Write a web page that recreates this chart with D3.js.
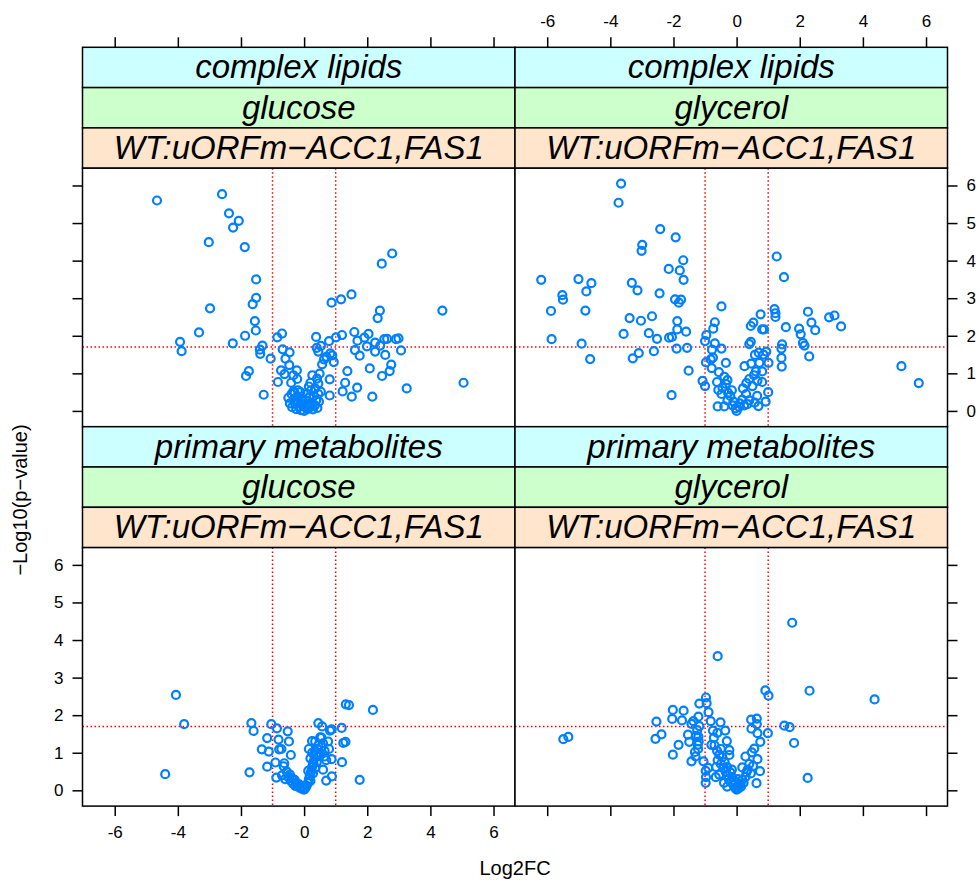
<!DOCTYPE html>
<html>
<head>
<meta charset="utf-8">
<script src="https://cdn.jsdelivr.net/npm/d3@7"></script>
<style>
  body { margin: 0; background: #fff; }
  svg text { font-family: "Liberation Sans", Arial, sans-serif; }
  .axis path { display: none; }
  .axis line { stroke: #000; stroke-width: 1.5; }
  .axis text { font-size: 17px; fill: #000; }
</style>
</head>
<body>
<div id="chart"></div>
<script>
// strip labels (outer to inner)
var classes = ["complex lipids", "primary metabolites"];
var sources = ["glucose", "glycerol"];
var comparison = "WT:uORFm\u2212ACC1,FAS1";
var xTicks = [-6, -4, -2, 0, 2, 4, 6];
var yTicks = [0, 1, 2, 3, 4, 5, 6];
var fcCut = [-1, 1];
var pCut = 1.7;

// [Log2FC, -Log10(p)]
var lipidsGlucose = [
  [-4.66,5.60],[-2.60,5.77],[-2.38,5.26],[-2.07,5.06],[-2.25,4.88],[-3.02,4.49],[-1.88,4.36],[-1.52,3.50],
  [-1.52,3.01],[-1.63,2.84],[-2.98,2.73],[-1.56,2.39],[-1.53,2.14],[-3.33,2.09],[-3.93,1.84],[-3.88,1.59],
  [-2.26,1.80],[-1.87,2.00],[-1.32,1.74],[-1.40,1.63],[-1.39,1.52],[-1.06,1.39],[-1.75,1.06],[-1.84,0.93],
  [-1.28,0.43],[-0.85,1.96],[-0.70,2.06],[-0.68,1.64],[-0.46,1.56],[-0.59,1.39],[-0.47,1.22],[-0.73,1.08],
  [-0.62,0.98],[-0.83,0.77],[-0.23,1.08],[-0.34,0.95],[-0.22,0.85],[-0.41,0.75],[-0.20,0.55],[-0.34,0.52],
  [0.38,1.97],[0.40,1.68],[0.45,1.58],[0.53,1.73],[0.79,1.86],[1.01,1.96],[1.20,2.02],[0.87,2.88],
  [1.17,2.97],[1.50,3.10],[2.46,3.92],[2.79,4.19],[2.40,2.67],[2.33,2.47],[4.38,2.67],[5.05,0.75],
  [3.25,0.60],[2.16,0.38],[1.51,0.38],[1.68,0.62],[1.22,0.52],[1.30,0.75],[1.37,1.06],[2.08,1.13],
  [2.47,0.93],[2.71,1.06],[2.76,1.23],[2.57,1.49],[3.07,1.61],[2.99,1.93],[2.91,1.91],[2.63,1.92],
  [2.54,1.91],[2.25,1.82],[2.04,2.05],[1.91,1.95],[1.59,2.10],[1.69,1.87],[1.61,1.62],[1.76,1.47],
  [1.99,1.72],[2.25,1.58],[2.41,1.74],[0.94,1.30],[0.83,1.53],[0.71,1.44],[0.89,1.48],[0.63,1.37],
  [0.57,1.24],[0.81,0.84],[0.81,0.41],[0.49,0.99],[0.41,0.86],[0.26,0.95],[0.20,0.75],[0.45,0.73],
  [0.53,0.51],[0.47,0.25],
  [-0.50,0.35],[-0.45,0.20],[-0.40,0.45],[-0.38,0.10],[-0.32,0.30],[-0.28,0.18],[-0.25,0.05],[-0.22,0.38],
  [-0.18,0.25],[-0.14,0.12],[-0.10,0.02],[-0.08,0.32],[-0.04,0.18],[0.00,0.00],[0.03,0.10],[0.06,0.28],
  [0.10,0.05],[0.13,0.18],[0.16,0.36],[0.20,0.10],[0.24,0.22],[0.28,0.04],[0.30,0.40],[0.34,0.15],
  [0.38,0.28],[0.42,0.08],[0.45,0.45],[-0.30,0.48],[0.08,0.45],[-0.12,0.50],[0.22,0.55],[0.35,0.60],
  [0.15,0.65]
];

var lipidsGlycerol = [
  [-3.66,6.05],[-3.74,5.54],[-2.42,4.84],[-1.93,4.62],[-2.99,4.42],[-3.01,4.26],[-1.69,4.01],[-2.15,3.78],
  [-1.80,3.74],[-1.68,3.49],[-6.19,3.49],[-5.01,3.51],[-4.60,3.40],[-4.76,3.18],[-5.52,3.08],[-5.50,2.96],
  [-5.88,2.66],[-4.79,2.67],[-5.86,1.91],[-4.91,1.79],[-4.64,1.38],[-3.32,3.41],[-3.14,3.21],[-2.44,3.13],
  [-1.95,2.97],[-1.83,2.88],[-1.76,2.96],[-0.48,2.78],[-3.39,2.47],[-3.03,2.40],[-2.68,2.52],[-3.58,2.05],
  [-2.78,2.07],[-2.52,1.92],[-2.14,1.95],[-2.05,1.97],[-1.88,2.39],[-1.88,2.17],[-1.60,2.11],[-1.57,1.68],
  [-1.90,1.66],[-3.10,1.54],[-3.29,1.40],[-2.62,1.59],[-1.52,1.07],[-2.06,0.42],[-0.69,2.36],[-0.74,2.19],
  [-0.96,2.02],[-1.00,1.86],[-0.69,1.80],[-0.48,1.66],[-0.78,1.63],[-0.75,1.42],[-0.82,1.37],[-0.97,1.29],
  [-0.79,1.14],[-0.34,1.28],[-0.56,1.03],[-0.39,0.91],[-0.29,0.82],[-0.62,0.77],[-1.08,0.80],[-1.00,0.66],
  [-0.58,0.56],[-0.48,0.45],[-0.27,0.48],[-0.60,0.12],[-0.39,0.12],[-0.03,0.07],[0.18,0.30],[0.34,0.18],
  [0.57,0.22],[0.69,0.13],[0.92,0.25],[1.00,0.50],[0.81,0.77],[0.50,0.66],[0.31,0.74],[0.40,0.85],
  [0.61,1.05],[0.72,1.28],[0.46,1.26],[0.25,1.19],[0.58,1.49],[0.94,1.58],[1.01,1.28],[0.81,2.17],
  [0.87,2.17],[0.76,2.57],[0.53,2.35],[0.45,2.26],[0.45,1.84],[0.40,1.78],[1.20,2.71],[1.23,2.60],
  [1.23,2.50],[1.27,4.11],[1.50,3.56],[1.56,2.23],[1.44,1.77],[1.42,1.66],[1.42,1.41],[1.43,1.18],
  [2.26,2.64],[2.37,2.35],[2.49,2.15],[1.98,2.19],[2.03,2.04],[2.10,1.81],[2.15,1.74],[2.30,1.45],
  [2.93,2.49],[3.10,2.54],[3.31,2.25],[5.22,1.19],[5.77,0.74],
  [-0.34,0.72],[-0.45,0.62],[-0.29,0.28],[-0.13,0.15],[0.08,0.11],[0.24,0.15],[0.40,0.28],[0.66,0.80],
  [0.81,1.05],[-0.20,0.40],[-0.10,0.25],[0.00,0.00],[0.10,0.20],[0.30,0.45],[0.55,0.95],[0.65,0.40],
  [-0.15,0.55],[0.20,0.60],[0.70,1.55],[0.85,1.50]
];

var primaryGlucose = [
  [-4.06,2.54],[-3.80,1.76],[-4.40,0.43],[-1.67,1.79],[-1.60,1.58],[-1.17,1.39],[-1.34,1.09],[-1.12,1.03],
  [-1.17,0.63],[-1.73,0.48],[-1.04,1.76],[-0.86,1.65],[-0.52,1.57],[-0.81,1.35],[-0.48,1.30],[-0.79,1.09],
  [-0.72,1.10],[-0.42,0.94],[-0.91,0.74],[-0.63,0.72],[-0.65,0.64],[-0.88,0.34],[0.45,1.79],[0.57,1.70],
  [0.25,1.31],[0.51,1.41],[0.76,1.30],[0.82,1.59],[0.87,1.62],[1.19,1.66],[1.32,2.29],[1.42,2.27],
  [2.18,2.14],[1.24,1.26],[1.31,1.29],[1.20,0.75],[1.76,0.28],[0.88,0.37],[0.70,0.26],[0.87,0.83],
  [0.79,1.10],[0.34,1.05],[0.49,0.92],[0.28,0.74],[0.13,0.52],
  [-0.55,0.50],[-0.50,0.35],[-0.45,0.42],[-0.42,0.25],[-0.38,0.32],[-0.35,0.18],[-0.30,0.28],[-0.28,0.12],
  [-0.24,0.20],[-0.20,0.10],[-0.16,0.16],[-0.12,0.06],[-0.08,0.10],[-0.04,0.03],[0.00,0.02],[0.04,0.06],
  [0.08,0.12],[0.12,0.20],[0.15,0.30],[0.18,0.40],[0.22,0.50],[0.25,0.62],[0.30,0.70],[0.33,0.85],
  [0.38,0.95],[0.42,1.10],[0.45,1.20],[0.20,0.25],[0.28,0.45],[0.35,0.60],[0.40,0.75],[0.50,1.00],
  [0.55,1.15],[0.60,1.25],[-0.60,0.30],[-0.70,0.40],[0.65,0.90],[0.60,0.55],[0.15,1.10],[0.25,1.00],
  [0.35,1.30],[0.55,1.40],[0.65,1.05],[0.70,0.80],[0.20,0.85]
];

var primaryGlycerol = [
  [1.76,4.46],[-0.60,3.57],[2.31,2.65],[4.37,2.42],[0.91,2.66],[1.01,2.52],[-5.49,1.36],[-5.33,1.42],
  [-2.54,1.83],[-2.57,1.37],[-2.38,1.49],[-2.02,2.14],[-2.04,1.90],[-1.68,2.12],[-1.73,1.86],[-1.84,1.21],
  [-2.02,0.95],[-1.43,0.77],[-1.32,1.02],[-1.54,1.48],[-1.50,1.29],[-1.18,2.31],[-0.97,2.47],[-0.95,2.32],
  [-0.89,2.08],[-1.21,1.96],[-1.37,1.84],[-1.43,1.77],[-1.18,1.71],[-1.21,1.43],[-1.23,1.21],[-0.82,1.84],
  [-0.51,1.81],[-0.75,1.59],[-0.61,1.53],[-0.36,1.59],[-0.31,1.31],[-0.80,1.21],[-1.05,0.77],[-0.98,0.52],
  [-0.97,0.35],[-0.23,1.07],[-0.23,0.94],[0.46,1.88],[0.64,1.91],[0.64,1.76],[0.47,1.64],[0.66,1.52],
  [0.99,1.52],[0.75,1.29],[0.56,1.11],[0.48,1.01],[0.28,0.90],[0.66,0.83],[0.52,0.65],[0.74,0.51],
  [0.63,0.19],[0.18,0.61],[0.31,0.48],[1.51,1.72],[1.68,1.68],[1.82,1.26],[2.25,0.33],
  [-0.70,1.20],[-0.62,1.05],[-0.55,0.95],[-0.60,0.80],[-0.50,0.70],[-0.45,0.88],[-0.42,0.60],[-0.38,0.75],
  [-0.35,0.50],[-0.30,0.62],[-0.28,0.40],[-0.25,0.30],[-0.20,0.48],[-0.18,0.22],[-0.14,0.35],[-0.10,0.14],
  [-0.08,0.26],[-0.04,0.06],[0.00,0.02],[0.03,0.12],[0.06,0.05],[0.10,0.18],[0.14,0.10],[0.18,0.28],
  [0.22,0.20],[0.28,0.36],[0.35,0.55],[0.40,0.70],[0.45,0.45],[-0.65,0.62],[-0.55,0.42],[-0.50,1.10],
  [-0.72,1.40],[-0.66,0.35],[-0.40,0.20],[-0.30,0.10],[-0.15,0.55],[0.05,0.30],[-1.25,1.60],[-1.28,1.45],
  [-1.22,1.10],[-1.30,0.90],[-1.20,1.30],[-0.98,0.20],[-0.90,0.60]
];

var panels = [
  { row: 0, col: 0, cls: classes[0], src: sources[0], data: lipidsGlucose },
  { row: 0, col: 1, cls: classes[0], src: sources[1], data: lipidsGlycerol },
  { row: 1, col: 0, cls: classes[1], src: sources[0], data: primaryGlucose },
  { row: 1, col: 1, cls: classes[1], src: sources[1], data: primaryGlycerol }
];

var svgWidth = 980;
var svgHeight = 888;

// layout of the lattice
var colX = [82.5, 515, 947.5];
var top0 = 47.3;
var stripH = 40.3;
var panelH = 258.5;
var rowTop = [top0, top0 + 3 * stripH + panelH];
var stripColors = ["#ccffff", "#ccffcc", "#ffe5cc"];
var tickLen = 10;
var fmt = d => String(d);

var svg = d3.select("#chart")
  .append("svg")
  .attr("width", svgWidth)
  .attr("height", svgHeight);

function xScaleFor(col) {
  return d3.scaleLinear().domain([-7.02, 6.68]).range([colX[col], colX[col + 1]]);
}
function yScaleFor(row) {
  var pTop = rowTop[row] + 3 * stripH;
  return d3.scaleLinear().domain([-0.42, 6.46]).range([pTop + panelH, pTop]);
}

panels.forEach(function(p) {
  var x = xScaleFor(p.col);
  var y = yScaleFor(p.row);
  var x0 = colX[p.col], x1 = colX[p.col + 1];
  var sTop = rowTop[p.row];
  var pTop = sTop + 3 * stripH;
  var g = svg.append("g");

  // strips
  var labels = [p.cls, p.src, comparison];
  labels.forEach(function(lab, i) {
    g.append("rect")
      .attr("x", x0).attr("y", sTop + i * stripH)
      .attr("width", x1 - x0).attr("height", stripH)
      .attr("fill", stripColors[i])
      .attr("stroke", "#000").attr("stroke-width", 1.5);
    g.append("text")
      .attr("x", (x0 + x1) / 2)
      .attr("y", sTop + i * stripH + 31)
      .attr("text-anchor", "middle")
      .attr("font-size", "33px")
      .attr("font-style", "italic")
      .text(lab);
  });

  // panel background
  g.append("rect")
    .attr("x", x0).attr("y", pTop)
    .attr("width", x1 - x0).attr("height", panelH)
    .attr("fill", "#fff");

  var clip = "clip" + p.row + p.col;
  g.append("clipPath").attr("id", clip).append("rect")
    .attr("x", x0).attr("y", pTop).attr("width", x1 - x0).attr("height", panelH);
  var inner = g.append("g").attr("clip-path", "url(#" + clip + ")");

  // cutoff lines
  fcCut.forEach(function(v) {
    inner.append("line")
      .attr("x1", x(v)).attr("x2", x(v))
      .attr("y1", pTop).attr("y2", pTop + panelH)
      .attr("stroke", "#ff0000").attr("stroke-width", 1.5)
      .attr("stroke-dasharray", "1.5,2.5");
  });
  inner.append("line")
    .attr("x1", x0).attr("x2", x1)
    .attr("y1", y(pCut)).attr("y2", y(pCut))
    .attr("stroke", "#ff0000").attr("stroke-width", 1.5)
    .attr("stroke-dasharray", "1.5,2.5");

  // points
  inner.selectAll("circle")
    .data(p.data)
    .enter()
    .append("circle")
    .attr("cx", d => x(d[0]))
    .attr("cy", d => y(d[1]))
    .attr("r", 4)
    .attr("fill", "none")
    .attr("stroke", "#0080ff")
    .attr("stroke-width", 2.2);

  // panel border
  g.append("rect")
    .attr("x", x0).attr("y", pTop)
    .attr("width", x1 - x0).attr("height", panelH)
    .attr("fill", "none")
    .attr("stroke", "#000").attr("stroke-width", 1.5);

  // x axes: bottom row gets bottom ticks, top row gets top ticks
  if (p.row === 1) {
    var xb = d3.axisBottom(x).tickValues(xTicks).tickSize(tickLen).tickPadding(10)
      .tickSizeOuter(0).tickFormat(p.col === 0 ? fmt : "");
    g.append("g").attr("class", "axis")
      .attr("transform", `translate(0, ${pTop + panelH})`)
      .call(xb);
  } else {
    var xt = d3.axisTop(x).tickValues(xTicks).tickSize(tickLen).tickPadding(10)
      .tickSizeOuter(0).tickFormat(p.col === 1 ? fmt : "");
    g.append("g").attr("class", "axis")
      .attr("transform", `translate(0, ${sTop})`)
      .call(xt);
  }

  // y axes
  if (p.col === 0) {
    var yl = d3.axisLeft(y).tickValues(yTicks).tickSize(tickLen).tickPadding(9)
      .tickSizeOuter(0).tickFormat(p.row === 1 ? fmt : "");
    g.append("g").attr("class", "axis")
      .attr("transform", `translate(${x0}, 0)`)
      .call(yl);
  } else {
    var yr = d3.axisRight(y).tickValues(yTicks).tickSize(tickLen).tickPadding(9)
      .tickSizeOuter(0).tickFormat(p.row === 0 ? fmt : "");
    g.append("g").attr("class", "axis")
      .attr("transform", `translate(${x1}, 0)`)
      .call(yr);
  }
});

// axis titles
svg.append("text")
  .attr("x", 515)
  .attr("y", 875)
  .attr("text-anchor", "middle")
  .attr("font-size", "20px")
  .text("Log2FC");

svg.append("text")
  .attr("transform", "translate(27, 500) rotate(-90)")
  .attr("text-anchor", "middle")
  .attr("font-size", "20px")
  .text("\u2212Log10(p\u2212value)");
</script>
</body>
</html>
